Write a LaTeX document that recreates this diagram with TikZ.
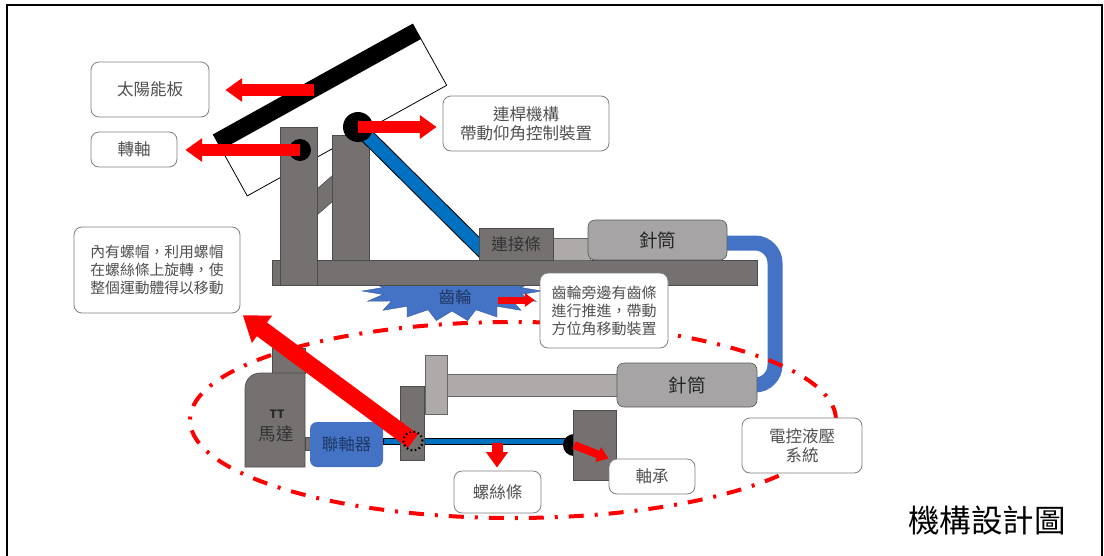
\documentclass[tikz,border=0pt]{standalone}
\usepackage{fontspec}
\setmainfont{Noto Sans CJK TC}
\usepackage{tikz}
\usetikzlibrary{arrows.meta}
\definecolor{acier}{RGB}{118,113,113}
\definecolor{alu}{RGB}{174,170,170}
\definecolor{cylindre}{RGB}{166,164,164}
\definecolor{bielle}{RGB}{0,112,192}
\definecolor{hydro}{RGB}{68,114,196}
\definecolor{marine}{RGB}{31,56,100}
\definecolor{rouge}{RGB}{255,0,0}
\definecolor{legende}{RGB}{80,80,80}
\definecolor{cadre}{RGB}{127,127,127}
\newcommand{\tailletexte}[2]{\fontsize{#1}{#2}\selectfont}

\begin{document}
\begin{tikzpicture}[x=1pt,y=-1pt,
    piece/.style={fill=acier, draw=black!70, line width=0.6pt},
    clair/.style={fill=alu, draw=black!60, line width=0.6pt},
    seringue/.style={fill=cylindre, draw=black!65, line width=0.6pt, rounded corners=7pt,
      minimum width=#1, minimum height=42pt, inner sep=0pt, text=black!85,
      font=\tailletexte{18.5}{19}},
    bulle/.style={draw=cadre, line width=0.8pt, rounded corners=8pt, fill=white,
      text=legende, align=center, inner sep=0pt, font=\tailletexte{16.5}{19}},
    fleche/.style={rouge, line width=#1, -{Triangle[length=0pt 1.4, width=0pt 1.9]}},
    axe/.style={circle, fill=black, inner sep=0pt, minimum size=#1}]
  \useasboundingbox (0,0) rectangle (1104,555);
  \draw[line width=2pt] (7,556) -- (7,5) -- (1102,5) -- (1102,556);
  % panneau incline de 29 degres
  \begin{scope}[shift={(330,110)}, rotate=29]
    \draw[fill=white, line width=0.8pt] (-114,-35) rectangle (114,35);
    \fill (-114,-35) rectangle (114,-18);
  \end{scope}
  % support : entretoise, montants, bielle
  \draw[piece] (317,189) -- (333,175) -- (333,201) -- (317,215) -- cycle;
  \draw[piece] (332,135) rectangle (369,260);
  \draw[line width=15pt] (358,127) -- (488,256);
  \draw[line width=13pt, bielle] (358,127) -- (488,256);
  % engrenage sous le plateau
  \filldraw[fill=hydro, draw=hydro!80!black, shift={(452,291)}]
    (0:90pt and 30pt) \foreach \a in {0,20,...,340}{
      -- (\a:90pt and 30pt) -- ({\a+10}:70pt and 20pt)} -- cycle;
  \node[text=marine, font=\tailletexte{16.5}{17}] (engrenage) at (455,297) {齒輪};
  \draw[piece] (272,260) rectangle (757,285);
  \draw[piece] (280,127) rectangle (317,285);
  \node[axe=22pt] (pivot) at (300,150) {};
  \node[axe=30pt] (rotule) at (358,127) {};
  % verin du haut
  \draw[clair] (552,238) rectangle (590,260);
  \node[piece, minimum width=74pt, minimum height=32pt, inner sep=0pt, text=black!80,
    font=\tailletexte{16.5}{17}] (embout) at (516,244) {連接條};
  \draw[hydro, line width=15pt, rounded corners=20pt]
    (715,243) -- (775,243) -- (775,385) -- (745,385);
  \node[seringue=139pt, minimum height=40pt] (cylhaut) at (657.5,240) {針筒};
  % verin du bas
  \draw[clair] (446,374) rectangle (620,396);
  \draw[clair] (425,355) rectangle (447,414);
  \node[seringue=140pt, minimum height=44pt] (cylbas) at (687,385) {針筒};
  % moteur, accouplement, vis
  \draw[piece] (272,348) rectangle (305,373);
  \draw[piece] (305,373) -- (260,373) arc[start angle=90, end angle=180, radius=15pt]
    -- (245,467) -- (305,467) -- cycle;
  \node[text=black!85, font=\bfseries\tailletexte{11.5}{12}] (tt) at (277,414) {TT};
  \node[text=black!80, font=\tailletexte{17.5}{18}] (moteur) at (276,434) {馬達};
  \draw[piece] (305,437) rectangle (310,450);
  \node[fill=hydro, rounded corners=7pt, minimum width=73pt, minimum height=45pt,
    inner sep=0pt, text=marine, font=\tailletexte{16.5}{17}] (accouplement) at (346.5,444.5) {聯軸器};
  \draw[fill=bielle, line width=0.6pt] (383,438) rectangle (575,444);
  \node[axe=22pt] (palier) at (574,445) {};
  \draw[piece] (573,410) rectangle (616,480);
  \draw[piece] (400,386) rectangle (424,460);
  % zone de translation
  \draw[rouge, line width=4pt, dash pattern=on 15pt off 11pt on 3pt off 11pt]
    (513,420) ellipse [x radius=323pt, y radius=98pt];
  % legendes
  \node[bulle, minimum width=118pt, minimum height=55pt] (panneau) at (150,89.5) {太陽能板};
  \node[bulle, minimum width=86pt, minimum height=35pt] (arbre) at (134,149.5) {轉軸};
  \node[bulle, minimum width=166pt, minimum height=55pt] (biellette) at (526,123.5)
    {連桿機構\\帶動仰角控制裝置};
  \node[bulle, minimum width=128pt, minimum height=75pt, font=\tailletexte{15}{18}]
    (cremaillere) at (604,310.5) {齒輪旁邊有齒條\\進行推進，帶動\\方位角移動裝置};
  \node[bulle, minimum width=166pt, minimum height=86pt, font=\tailletexte{14.8}{18}]
    (notice) at (157,270) {內有螺帽，利用螺帽\\在螺絲條上旋轉，使\\整個運動體得以移動};
  \node[bulle, minimum width=87pt, minimum height=42pt] (vislabel) at (497.5,492) {螺絲條};
  \node[bulle, minimum width=86pt, minimum height=35pt] (roulement) at (652,476.5) {軸承};
  \node[bulle, minimum width=120pt, minimum height=55pt] (hydraulique) at (802,445.5)
    {電控液壓\\系統};
  % fleches rouges
  \coordinate (surface) at (314,90);
  \coordinate (dent) at (498,300);
  \coordinate (vis) at (497,443);
  \draw[fleche=12pt, shorten >=16pt] (surface) -- (surface -| panneau.east);
  \draw[fleche=12pt, shorten >=8pt] (pivot.center) -- (pivot.center -| arbre.east);
  \draw[fleche=12pt, shorten >=6pt] (rotule.center) -- (rotule.center -| biellette.west);
  \draw[fleche=7pt, shorten >=5pt] (dent) -- (dent -| cremaillere.west);
  \draw[fleche=11pt, shorten >=3pt] (vis) -- (vis |- vislabel.north);
  \draw[fleche=8pt] (palier.center) -- (roulement.north west);
  \node[circle, minimum size=20pt, inner sep=0pt] (ecrou) at (413,441) {};
  \draw[fleche=17pt, shorten >=3pt] (ecrou.center) -- (notice.south east);
  \draw[line width=2.2pt, dash pattern=on 1.6pt off 2.6pt] (ecrou) circle (9.5pt);
  \node[font=\tailletexte{31.5}{32}] (titre) at (987,520) {機構設計圖};
\end{tikzpicture}
\end{document}
